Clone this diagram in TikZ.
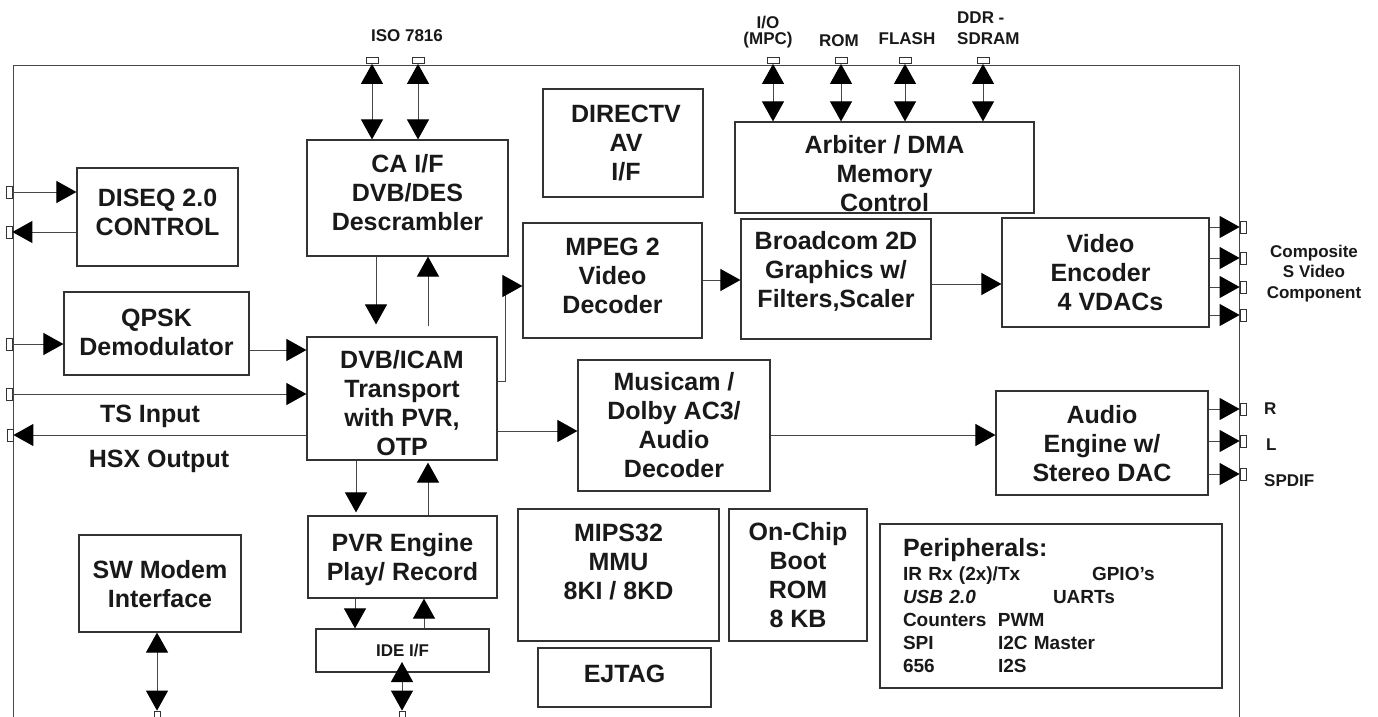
\documentclass[tikz,border=0pt]{standalone}
\usepackage{fontspec}
\setmainfont{Liberation Sans}
\usetikzlibrary{arrows.meta}
\begin{document}
\begin{tikzpicture}[x=1pt,y=-1pt,
  bt/.tip={Triangle[length=20pt,width=22pt,color=black]},
  ln/.style={draw=black!72, line width=1pt},
  arr/.style={ln, -bt},
  darr/.style={ln, bt-bt},
  box/.style={draw=black!80, line width=1.2pt, inner sep=0pt},
  btxt/.style={font=\bfseries\fontsize{25}{29}\selectfont, align=center, inner sep=0pt, text=black!90},
  stxt/.style={font=\bfseries\fontsize{17}{20}\selectfont, inner sep=0pt, text=black!90},
  pinh/.style={draw=black!80, fill=white, line width=0.8pt, minimum width=12pt, minimum height=6pt, inner sep=0pt},
  pinv/.style={draw=black!80, fill=white, line width=0.8pt, minimum width=6pt, minimum height=12pt, inner sep=0pt}]
\useasboundingbox (0,0) rectangle (1378,717);
\fill[white] (0,0) rectangle (1378,717);

% chip frame
\draw[ln] (13,717) -- (13,66) -- (1239,66) -- (1239,717);

% boxes
\node[box, minimum width=161pt, minimum height=98pt, label={[btxt,yshift=5pt]center:{DISEQ 2.0\\CONTROL}}] (diseq) at (157.5,217) {};
\node[box, minimum width=185pt, minimum height=83pt, label={[btxt,yshift=1pt]center:{QPSK\\Demodulator}}] (qpsk) at (156.5,333.5) {};
\node[box, minimum width=201pt, minimum height=116pt, label={[btxt,yshift=5pt]center:{CA I/F\\DVB/DES\\Descrambler}}] (ca) at (407.5,198) {};
\node[box, minimum width=190pt, minimum height=123pt, label={[btxt,yshift=-5pt]center:{DVB/ICAM\\Transport\\with PVR,\\OTP}}] (dvb) at (402,398.5) {};
\node[box, minimum width=189pt, minimum height=82pt, label={[btxt,yshift=-3pt]center:{PVR Engine\\Play/ Record}}] (pvr) at (402.5,557) {};
\node[box, minimum width=173pt, minimum height=43pt, label={[stxt]center:{IDE I/F}}] (ide) at (402.5,650.5) {};
\node[box, minimum width=162pt, minimum height=97pt, label={[btxt,yshift=-1pt]center:{SW Modem\\Interface}}] (sw) at (160,583.5) {};
\node[box, minimum width=160pt, minimum height=108pt, label={[btxt,xshift=3pt]center:{DIRECTV\\AV\\I/F}}] (dtv) at (623,143) {};
\node[box, minimum width=299pt, minimum height=91pt, label={[btxt,yshift=-6pt]center:{Arbiter / DMA\\Memory\\Control}}] (arb) at (884.5,167.5) {};
\node[box, minimum width=179pt, minimum height=115pt, label={[btxt,yshift=5pt]center:{MPEG 2\\Video\\Decoder}}] (mpeg) at (612.5,280.5) {};
\node[box, minimum width=190pt, minimum height=120pt, label={[btxt,yshift=8pt]center:{Broadcom 2D\\Graphics w/\\Filters,Scaler}}] (bc) at (836,279) {};
\node[box, minimum width=207pt, minimum height=109pt, label={[btxt,xshift=-5pt]center:{Video\\Encoder\\\hspace*{20pt}4 VDACs}}] (venc) at (1105.5,272.5) {};
\node[box, minimum width=192pt, minimum height=131pt, label={[btxt]center:{Musicam /\\Dolby AC3/\\Audio\\Decoder}}] (mus) at (674,425.5) {};
\node[box, minimum width=212pt, minimum height=104pt, label={[btxt,yshift=-1pt]center:{Audio\\Engine w/\\Stereo DAC}}] (aud) at (1102,443) {};
\node[box, minimum width=201pt, minimum height=132pt, label={[btxt,yshift=13pt]center:{MIPS32\\MMU\\8KI / 8KD}}] (mips) at (618.5,575) {};
\node[box, minimum width=138pt, minimum height=132pt, label={[btxt]center:{On-Chip\\Boot\\ROM\\8 KB}}] (rom) at (798,575) {};
\node[box, minimum width=173pt, minimum height=59pt, label={[btxt,yshift=4pt]center:{EJTAG}}] (ejtag) at (624.5,677.5) {};
\node[box, minimum width=342pt, minimum height=164pt, text width=296pt, align=left, inner xsep=23pt,
      font=\bfseries\fontsize{19}{23}\selectfont, text=black!90] (peri) at (1051,606)
  {{\fontsize{25}{28}\selectfont Peripherals:}\\[1pt]
   \makebox[189pt][l]{IR Rx (2x)/Tx}GPIO’s\\
   \makebox[150pt][l]{\itshape USB 2.0}UARTs\\
   \makebox[95pt][l]{Counters}PWM\\
   \makebox[95pt][l]{SPI}I2C Master\\
   \makebox[95pt][l]{656}I2S};

% pins
\node[pinh] (iso1) at (372,60.5) {};
\node[pinh] (iso2) at (418,60.5) {};
\node[pinh] (pio) at (773,60.5) {};
\node[pinh] (prom) at (841,60.5) {};
\node[pinh] (pfl) at (905,60.5) {};
\node[pinh] (pddr) at (983,60.5) {};
\node[pinv] (pd1) at (9,192) {};
\node[pinv] (pd2) at (9,232) {};
\node[pinv] (pq) at (9,344) {};
\node[pinv] (pts) at (9,394) {};
\node[pinv] (phsx) at (10,435) {};
\node[pinv] (pv1) at (1243,227) {};
\node[pinv] (pv2) at (1243,258) {};
\node[pinv] (pv3) at (1243,287) {};
\node[pinv] (pv4) at (1243,315) {};
\node[pinv] (pr) at (1243,409) {};
\node[pinv] (pl) at (1243,441) {};
\node[pinv] (psp) at (1243,474) {};
\node[pinv] (pbsw) at (157,717) {};
\node[pinv] (pbide) at (402,717) {};

% helper coordinates
\coordinate (xA) at (376,0);
\coordinate (xB) at (428,0);
\coordinate (xC) at (356,0);
\coordinate (xE) at (355,0);
\coordinate (xF) at (424,0);
\coordinate (xM) at (505,0);
\coordinate (yQ) at (0,350);
\coordinate (yM1) at (0,381);
\coordinate (yM2) at (0,286);
\coordinate (yMB) at (0,280);
\coordinate (yBV) at (0,284);
\coordinate (yDM) at (0,431);
\coordinate (yMA) at (0,435);
\coordinate (yI) at (0,662);

% connectors
\draw[arr] (pd1) -- (pd1 -| diseq.west);
\draw[arr] (pd2 -| diseq.west) -- (pd2);
\draw[arr] (pq) -- (pq -| qpsk.west);
\draw[arr] (qpsk.east |- yQ) -- (dvb.west |- yQ);
\draw[arr] (pts) -- (pts -| dvb.west);
\draw[arr] (phsx -| dvb.west) -- (phsx);
\draw[darr] (iso1) -- (iso1 |- ca.north);
\draw[darr] (iso2) -- (iso2 |- ca.north);
\foreach \p in {pio,prom,pfl,pddr} \draw[darr] (\p) -- (\p |- arb.north);
\draw[arr, shorten >=12pt] (ca.south -| xA) -- (dvb.north -| xA);
\draw[arr, shorten <=10pt] (dvb.north -| xB) -- (ca.south -| xB);
\draw[arr, shorten >=3pt] (dvb.south -| xC) -- (pvr.north -| xC);
\draw[arr, shorten >=2pt] (pvr.north -| xB) -- (dvb.south -| xB);
\draw[arr] (pvr.south -| xE) -- (ide.north -| xE);
\draw[arr] (ide.north -| xF) -- (pvr.south -| xF);
\draw[darr] (pbide |- yI) -- (pbide);
\draw[darr] (sw.south -| pbsw) -- (pbsw);
\draw[arr] (dvb.east |- yM1) -- (xM |- yM1) -- (xM |- yM2) -- (mpeg.west |- yM2);
\draw[arr] (mpeg.east |- yMB) -- (bc.west |- yMB);
\draw[arr] (bc.east |- yBV) -- (venc.west |- yBV);
\foreach \p in {pv1,pv2,pv3,pv4} \draw[arr] (venc.east |- \p) -- (\p);
\draw[arr] (dvb.east |- yDM) -- (mus.west |- yDM);
\draw[arr] (mus.east |- yMA) -- (aud.west |- yMA);
\foreach \p in {pr,pl,psp} \draw[arr] (aud.east |- \p) -- (\p);

% labels
\node[stxt, anchor=base] (lbiso) at (407,42) {ISO 7816};
\node[stxt, anchor=base] (lbio1) at (768,29) {I/O};
\node[stxt, anchor=base] (lbio2) at (768,44.5) {(MPC)};
\node[stxt, anchor=base] (lbrom) at (839,47) {ROM};
\node[stxt, anchor=base] (lbfl) at (907,45) {FLASH};
\node[stxt, anchor=base west] (lbddr1) at (957,24) {DDR -};
\node[stxt, anchor=base west] (lbddr2) at (957,45) {SDRAM};
\node[stxt, anchor=base] (lbc1) at (1314,257) {Composite};
\node[stxt, anchor=base] (lbc2) at (1314,277) {S Video};
\node[stxt, anchor=base] (lbc3) at (1314,298) {Component};
\node[stxt, anchor=base west] (lbr) at (1264,414) {R};
\node[stxt, anchor=base west] (lbl) at (1266,450) {L};
\node[stxt, anchor=base west] (lbsp) at (1264,486) {SPDIF};
\node[btxt, anchor=base] (lbts) at (150,422) {TS Input};
\node[btxt, anchor=base] (lbhsx) at (159,467) {HSX Output};
\end{tikzpicture}
\end{document}
